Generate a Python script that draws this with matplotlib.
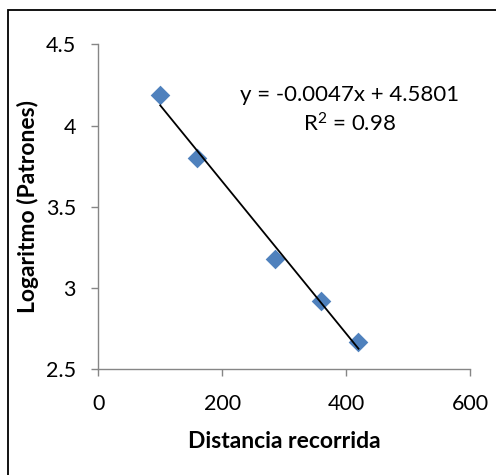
import numpy as np
import matplotlib
matplotlib.use("Agg")
import matplotlib.pyplot as plt
from matplotlib.patches import Rectangle

distancia = [100, 160, 285, 360, 420]
log_patrones = [4.19, 3.80, 3.18, 2.92, 2.67]
x_ticks = [0, 200, 400, 600]
y_ticks = [2.5, 3.0, 3.5, 4.0, 4.5]
y_tick_labels = ["2.5", "3", "3.5", "4", "4.5"]
equation_text = "y = -0.0047x + 4.5801"
r2_text = "R$^2$ = 0.98"

plt.rcParams['font.family'] = ['Lato', 'DejaVu Sans']
plt.rcParams['mathtext.default'] = 'regular'

W, H = 496, 475
fig = plt.figure(figsize=(W/100, H/100), dpi=100)
fig.patch.set_facecolor('white')
fig.add_artist(Rectangle((8/W, -0.1), 1.2, 1 - 10/H + 0.1, transform=fig.transFigure,
                         fill=False, edgecolor='black', linewidth=1.3))

ax = fig.add_axes([98.3/W, 1 - 369.3/H, 371.7/W, 325/H])
ax.set_xlim(0, 600)
ax.set_ylim(2.5, 4.5)

ax.scatter(distancia, log_patrones, marker='D', s=10**2, color='#4F81BD', zorder=3, linewidths=0)
coef = np.polyfit(distancia, log_patrones, 1)
xs = np.array([min(distancia), max(distancia)])
ax.plot(xs, np.polyval(coef, xs), color='black', linewidth=1.3, zorder=4)

ax.set_xticks(x_ticks)
ax.set_yticks(y_ticks)
ax.set_yticklabels(y_tick_labels)
for s in ['top', 'right']:
    ax.spines[s].set_visible(False)
for s in ['left', 'bottom']:
    ax.spines[s].set_color('#868686')
    ax.spines[s].set_linewidth(1.0)
ax.tick_params(direction='out', length=5, color='#868686', labelsize=15.5, width=1.0)
ax.tick_params(axis='x', pad=13)
ax.tick_params(axis='y', pad=11)

ax.set_xlabel("Distancia recorrida", fontsize=16.5, fontweight='bold', labelpad=12)
ax.set_ylabel("Logaritmo (Patrones)", fontsize=16.5, fontweight='bold', labelpad=5)

ax.text(406, 4.19, equation_text, ha='center', va='center', fontsize=16)
ax.text(406, 4.01, r2_text, ha='center', va='center', fontsize=16)

fig.savefig("out.png", dpi=100)
